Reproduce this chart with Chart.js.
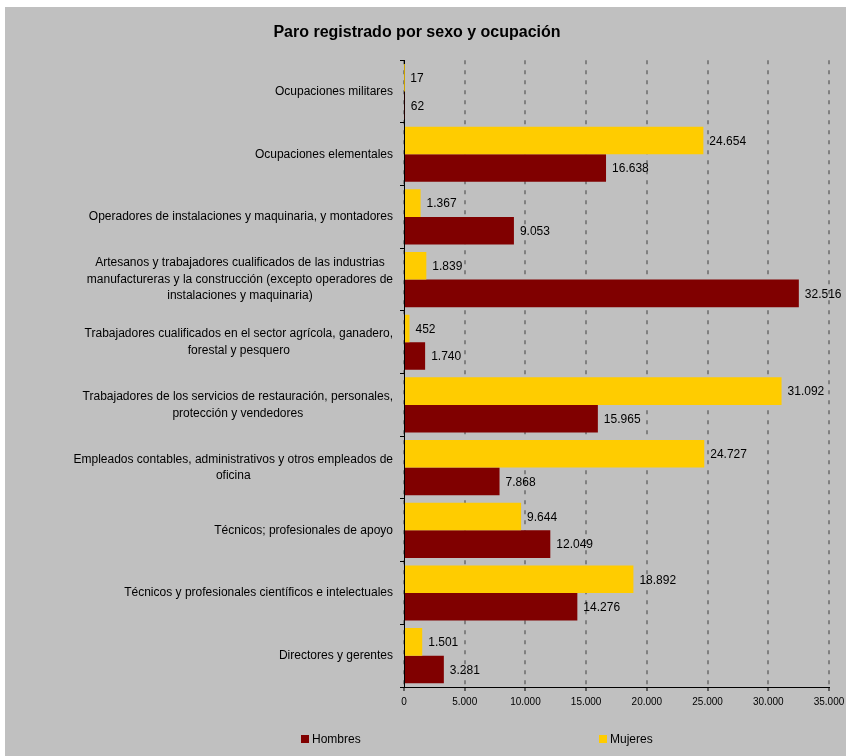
<!DOCTYPE html>
<html>
<head>
<meta charset="utf-8">
<script src="https://cdn.jsdelivr.net/npm/chart.js@4.4.0/dist/chart.umd.min.js"></script>
<style>
  body { margin: 0; background: #ffffff; }
  #marco { position: absolute; left: 5px; top: 7px; width: 841px; height: 749px; background: #c0c0c0; }
</style>
</head>
<body>
<div id="marco"><canvas id="grafico" width="841" height="749"></canvas></div>
<script>
// Datos (de arriba a abajo)
const ocupaciones = [
  "Ocupaciones militares",
  "Ocupaciones elementales",
  "Operadores de instalaciones y maquinaria, y montadores",
  ["Artesanos y trabajadores cualificados de las industrias", "manufactureras y la construcción (excepto operadores de", "instalaciones y maquinaria)"],
  ["Trabajadores cualificados en el sector agrícola, ganadero,", "forestal y pesquero"],
  ["Trabajadores de los servicios de restauración, personales,", "protección y vendedores"],
  ["Empleados contables, administrativos y otros empleados de", "oficina"],
  "Técnicos; profesionales de apoyo",
  "Técnicos y profesionales científicos e intelectuales",
  "Directores y gerentes",
];
const mujeres = [17, 24654, 1367, 1839, 452, 31092, 24727, 9644, 18892, 1501];
const hombres = [62, 16638, 9053, 32516, 1740, 15965, 7868, 12049, 14276, 3281];
const series = ["Hombres", "Mujeres"];
const colores = ["#800000", "#ffcc00"];

const fuente = "Arial, 'Liberation Sans', sans-serif";

function formatoMiles(n) {
  return String(n).replace(/\B(?=(\d{3})+(?!\d))/g, ".");
}

// Etiquetas del eje Y: bloque alineado a la derecha, líneas centradas
const etiquetasEjeY = {
  id: "etiquetasEjeY",
  afterDraw(chart) {
    const ctx = chart.ctx;
    const escala = chart.scales.y;
    ctx.save();
    ctx.font = "12px " + fuente;
    ctx.fillStyle = "#000";
    ctx.textAlign = "center";
    ctx.textBaseline = "middle";
    const derecha = escala.right - 11;
    const alto = 16.5;
    ocupaciones.forEach((et, i) => {
      const lineas = Array.isArray(et) ? et : [et];
      const ancho = Math.max(...lineas.map((l) => ctx.measureText(l).width));
      const cx = derecha - ancho / 2;
      const cy = escala.getPixelForValue(i);
      lineas.forEach((l, j) => {
        ctx.fillText(l, cx, cy + (j - (lineas.length - 1) / 2) * alto);
      });
    });
    ctx.restore();
  },
};

// Valores al final de cada barra
const valoresBarras = {
  id: "valoresBarras",
  afterDatasetsDraw(chart) {
    const ctx = chart.ctx;
    ctx.save();
    ctx.font = "12px " + fuente;
    ctx.fillStyle = "#000";
    ctx.textAlign = "left";
    ctx.textBaseline = "middle";
    chart.data.datasets.forEach((ds, d) => {
      chart.getDatasetMeta(d).data.forEach((barra, i) => {
        ctx.fillText(formatoMiles(ds.data[i]), barra.x + 6, barra.y + 1);
      });
    });
    ctx.restore();
  },
};

// Leyenda abajo, con las dos series separadas
const leyenda = {
  id: "leyenda",
  afterDraw(chart) {
    const ctx = chart.ctx;
    const posX = [296, 594];
    const y = 732;
    ctx.save();
    ctx.font = "12px " + fuente;
    ctx.textBaseline = "middle";
    series.forEach((s, i) => {
      ctx.fillStyle = colores[i];
      ctx.fillRect(posX[i], y - 4, 8, 8);
      ctx.fillStyle = "#000";
      ctx.fillText(s, posX[i] + 11, y + 1);
    });
    ctx.restore();
  },
};

new Chart(document.getElementById("grafico"), {
  type: "bar",
  data: {
    labels: ocupaciones,
    datasets: [
      { label: series[1], data: mujeres, backgroundColor: colores[1] },
      { label: series[0], data: hombres, backgroundColor: colores[0] },
    ],
  },
  options: {
    indexAxis: "y",
    responsive: false,
    animation: false,
    categoryPercentage: 0.88,
    barPercentage: 1.0,
    layout: { padding: { left: 0, right: 17, top: 0, bottom: 0 } },
    plugins: {
      legend: { display: false },
      tooltip: { enabled: false },
      title: {
        display: true,
        text: "Paro registrado por sexo y ocupación",
        color: "#000",
        font: { family: fuente, size: 16, weight: "bold" },
        padding: { top: 16, bottom: 18 },
      },
    },
    scales: {
      x: {
        min: 0,
        max: 35000,
        ticks: {
          stepSize: 5000,
          color: "#000",
          font: { family: fuente, size: 10 },
          padding: 5,
          maxRotation: 0,
          callback: (v) => formatoMiles(v),
        },
        grid: {
          color: "#808080",
          lineWidth: 2,
          tickColor: "#000",
          tickWidth: 1,
          tickLength: 4,
          tickBorderDash: [],
        },
        border: { display: true, color: "#000", width: 1, dash: [4, 6] },
        afterFit: (s) => {
          s.height = 69;
          s.paddingLeft = 0;
          s.paddingRight = 0;
        },
      },
      y: {
        ticks: { color: "rgba(0,0,0,0)", font: { family: fuente, size: 12 } },
        grid: {
          offset: true,
          drawOnChartArea: false,
          drawTicks: true,
          tickLength: 4,
          color: "#000",
          lineWidth: 1,
        },
        border: { display: true, color: "#000", width: 1 },
        afterFit: (s) => { s.width = 399; },
      },
    },
  },
  plugins: [etiquetasEjeY, valoresBarras, leyenda],
});
</script>
</body>
</html>
